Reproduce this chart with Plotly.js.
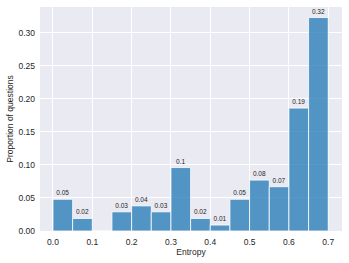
<!DOCTYPE html>
<html><head><meta charset="utf-8">
<script src="https://cdn.plot.ly/plotly-3.0.1.min.js"></script>
<style>html,body{margin:0;padding:0;background:#fff;}#c{width:349px;height:263px;}</style>
</head><body><div id="c"></div>
<script>
const binStart = [0.00,0.05,0.10,0.15,0.20,0.25,0.30,0.35,0.40,0.45,0.50,0.55,0.60,0.65];
const proportion = [0.048,0.019,0,0.029,0.038,0.029,0.096,0.019,0.009,0.048,0.077,0.067,0.186,0.323];
const barLabels = ["0.05","0.02","","0.03","0.04","0.03","0.1","0.02","0.01","0.05","0.08","0.07","0.19","0.32"];
const binWidth = 0.05;
const xTicks = [0.0,0.1,0.2,0.3,0.4,0.5,0.6,0.7];
const yTicks = [0.00,0.05,0.10,0.15,0.20,0.25,0.30];

const centers = binStart.map(b => b + binWidth/2);
const font = "Liberation Sans, Arial, sans-serif";
Plotly.newPlot('c', [{
  type: 'bar',
  x: centers,
  y: proportion,
  width: binWidth,
  text: barLabels,
  textposition: 'outside',
  cliponaxis: false,
  textfont: {family: font, size: 6.5, color: '#262626'},
  marker: {color: 'rgba(31,119,180,0.75)', line: {color: '#ffffff', width: 0.8}},
  hoverinfo: 'none'
}], {
  width: 349, height: 263,
  margin: {l: 40, r: 7, t: 7, b: 32},
  paper_bgcolor: '#ffffff',
  plot_bgcolor: '#eaeaf2',
  showlegend: false,
  font: {family: font, size: 8.5, color: '#262626'},
  xaxis: {
    range: [-0.033, 0.735],
    tickvals: xTicks,
    ticktext: xTicks.map(v => v.toFixed(1)),
    showgrid: true, gridcolor: '#ffffff', gridwidth: 1,
    zeroline: false, showline: false, ticks: '',
    ticklabelstandoff: 4,
    title: {text: 'Entropy', font: {size: 8.5, family: font, color: '#262626'}, standoff: 3}
  },
  yaxis: {
    range: [0, 0.339],
    tickvals: yTicks,
    ticktext: yTicks.map(v => v.toFixed(2)),
    showgrid: true, gridcolor: '#ffffff', gridwidth: 1,
    zeroline: false, showline: false, ticks: '',
    ticklabelstandoff: 4,
    title: {text: 'Proportion of questions', font: {size: 8.5, family: font, color: '#262626'}, standoff: 3}
  }
}, {staticPlot: true});
</script></body></html>
